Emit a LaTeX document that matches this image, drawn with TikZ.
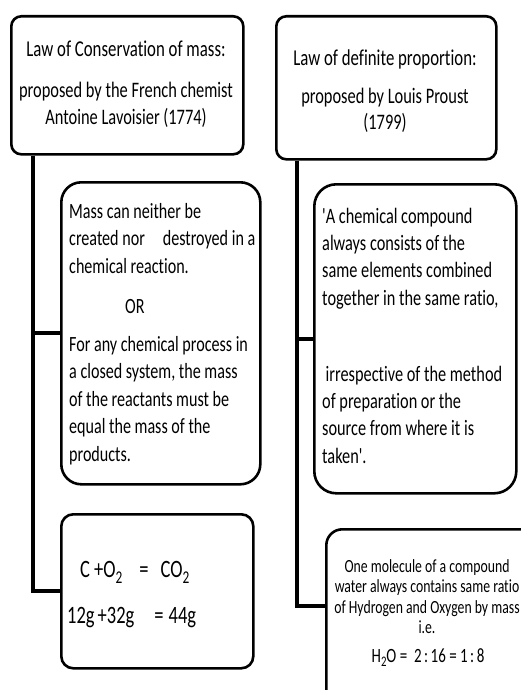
\documentclass[tikz,border=0pt]{standalone}
\usepackage{fontspec}
\usepackage{graphicx}
\setmainfont{Carlito}[Ligatures={TeXOff,CommonOff}]
\newcommand\vsc[1]{\scalebox{1}[1.35]{#1}}
\newcommand\parL[2]{\vsc{\parbox[t]{#1}{\raggedright #2}}}
\newcommand\parC[2]{\vsc{\parbox[t]{#1}{\centering #2}}}
\newcommand\sbs[2]{\raisebox{-#1}{\scalebox{0.72}{#2}}}
\begin{document}
\begin{tikzpicture}[x=1pt,y=1pt,
  rbox/.style={draw=black, line width=2.6pt, rounded corners=#1, inner sep=0pt, anchor=north west, fill=white},
  conn/.style={draw=black, line width=4pt},
  txt/.style={inner sep=0pt, text=black}]
\useasboundingbox (0,0) rectangle (521,-690);
\clip (0,0) rectangle (521,-690);
% boxes
\node[rbox=10pt, minimum width=232pt, minimum height=138pt] (tl) at (10,-15) {};
\node[rbox=10pt, minimum width=220pt, minimum height=143pt] (tr) at (275,-15) {};
\node[rbox=20pt, minimum width=199pt, minimum height=302pt] (lm) at (60,-181) {};
\node[rbox=22pt, minimum width=202pt, minimum height=309pt] (rm) at (313,-183) {};
\node[rbox=12pt, minimum width=192pt, minimum height=154pt] (lb) at (60,-513) {};
\node[rbox=16pt, minimum width=215pt, minimum height=180pt] (rb) at (325,-528) {};
% connectors
\coordinate (lx) at (33,-100);
\coordinate (rx) at (297,-100);
\path (rb.north west) ++(0,-78) coordinate (rbj);
\draw[conn] (tl.south -| lx) |- (lm.west);
\draw[conn] (tl.south -| lx) |- (lb.west);
\draw[conn] (tr.south -| rx) |- (rm.west);
\draw[conn] (tr.south -| rx) |- (rbj);
% top left
\node[txt, anchor=base, font=\fontsize{16.8}{20}\selectfont] (tlh) at (126,-57)
  {\parC{232pt}{Law of Conservation of mass:}};
\node[txt, anchor=base, font=\fontsize{16.4}{19.3}\selectfont] (tls) at (126,-98)
  {\parC{232pt}{proposed by the French chemist\\Antoine Lavoisier (1774)}};
% top right
\node[txt, anchor=base, font=\fontsize{16.8}{20}\selectfont] (trh) at (385,-66)
  {\parC{220pt}{Law of definite proportion:}};
\node[txt, anchor=base, font=\fontsize{16.4}{20}\selectfont] (trs) at (385,-103)
  {\parC{220pt}{proposed by Louis Proust\\(1799)}};
% middle left
\node[txt, anchor=base west, font=\fontsize{16.1}{20.6}\selectfont] (lm1) at (69,-218)
  {\parL{195pt}{Mass can neither be\\created nor\hspace{18pt}destroyed in a\\chemical reaction.}};
\node[txt, anchor=base west, font=\fontsize{16.1}{20.6}\selectfont] (lmor) at (125,-313) {\vsc{OR}};
\node[txt, anchor=base west, font=\fontsize{16.1}{20.4}\selectfont] (lm2) at (69,-351)
  {\parL{195pt}{For any chemical process in\\a closed system, the mass\\of the reactants must be\\equal the mass of the\\products.}};
% middle right
\node[txt, anchor=base west, font=\fontsize{16.3}{20.3}\selectfont] (rm1) at (322,-223)
  {\parL{195pt}{'A chemical compound\\always consists of the\\same elements combined\\together in the same ratio,}};
\node[txt, anchor=base west, font=\fontsize{16.3}{20.3}\selectfont] (rm2) at (322,-381)
  {\parL{195pt}{\hspace*{3.5pt}irrespective of the method\\of preparation or the\\source from where it is\\taken'.}};
% bottom left
\node[txt, anchor=base west, font=\fontsize{18.5}{22}\selectfont] (lbf1) at (80,-577)
  {\vsc{C +O\sbs{4.5pt}{2}\hspace{17pt}=\hspace{12pt}CO\sbs{4.5pt}{2}}};
\node[txt, anchor=base west, font=\fontsize{18.5}{22}\selectfont] (lbf2) at (67,-623)
  {\vsc{12g\,+32g\hspace{20pt}=\hspace{5pt}44g}};
% bottom right
\node[txt, anchor=base, font=\fontsize{13.75}{15.3}\selectfont] (rbt) at (427,-572)
  {\parC{230pt}{One molecule of a compound\\water always contains same ratio\\of Hydrogen and Oxygen by mass\\i.e.}};
\node[txt, anchor=base, font=\fontsize{15}{18}\selectfont] (rbf) at (428,-662)
  {\vsc{H\sbs{3.5pt}{2}O =\ \ 2\,:\,16 = 1\,:\,8}};
\end{tikzpicture}
\end{document}
